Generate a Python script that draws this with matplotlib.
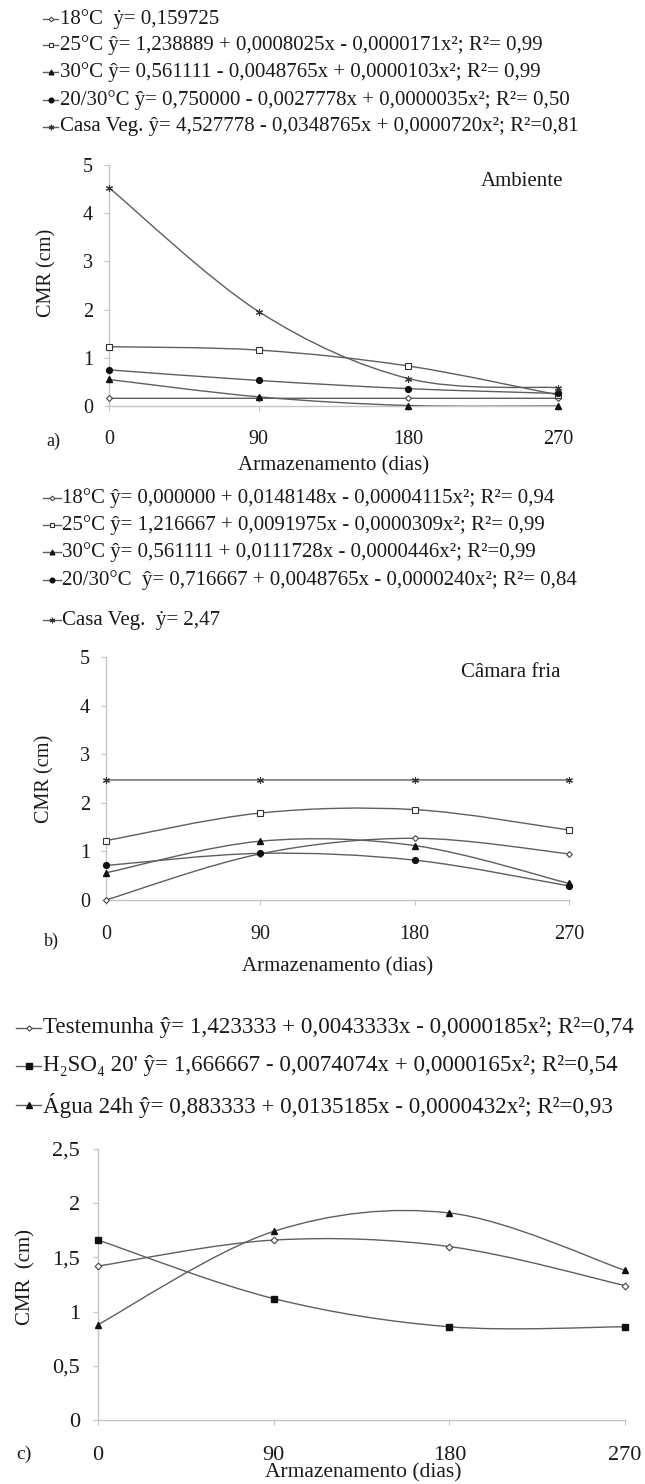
import numpy as np
import matplotlib
matplotlib.use('Agg')
import matplotlib.pyplot as plt
from matplotlib.path import Path
from matplotlib.patches import PathPatch
from matplotlib.lines import Line2D

plt.rcParams['font.family'] = ['Liberation Serif', 'DejaVu Serif']

W, H = 645, 1484
dias = [0, 90, 180, 270]

# a) Ambiente
amb_18 = [0.16, 0.16, 0.16, 0.16]
amb_25 = [1.23, 1.16, 0.83, 0.23]
amb_30 = [0.55, 0.19, 0.01, 0.0]
amb_2030 = [0.75, 0.53, 0.36, 0.26]
amb_casa = [4.53, 1.96, 0.57, 0.38]
amb_labels = ['18°C  ẏ= 0,159725',
              '25°C ŷ= 1,238889 + 0,0008025x - 0,0000171x²; R²= 0,99',
              '30°C ŷ= 0,561111 - 0,0048765x + 0,0000103x²; R²= 0,99',
              '20/30°C ŷ= 0,750000 - 0,0027778x + 0,0000035x²; R²= 0,50',
              'Casa Veg. ŷ= 4,527778 - 0,0348765x + 0,0000720x²; R²=0,81']

# b) Camara fria
cam_18 = [0.0, 0.95, 1.27, 0.95]
cam_25 = [1.22, 1.79, 1.86, 1.44]
cam_30 = [0.56, 1.21, 1.12, 0.34]
cam_2030 = [0.71, 0.96, 0.82, 0.29]
cam_casa = [2.47, 2.47, 2.47, 2.47]
cam_labels = ['18°C ŷ= 0,000000 + 0,0148148x - 0,00004115x²; R²= 0,94',
              '25°C ŷ= 1,216667 + 0,0091975x - 0,0000309x²; R²= 0,99',
              '30°C ŷ= 0,561111 + 0,0111728x - 0,0000446x²; R²=0,99',
              '20/30°C  ŷ= 0,716667 + 0,0048765x - 0,0000240x²; R²= 0,84',
              'Casa Veg.  ẏ= 2,47']

# c) tratamentos
trat_test = [1.42, 1.66, 1.60, 1.24]
trat_h2so4 = [1.66, 1.12, 0.86, 0.86]
trat_agua = [0.88, 1.74, 1.91, 1.38]
trat_labels = ['Testemunha ŷ= 1,423333 + 0,0043333x - 0,0000185x²; R²=0,74',
               'H₂SO₄ 20\' ŷ= 1,666667 - 0,0074074x + 0,0000165x²; R²=0,54',
               'Água 24h ŷ= 0,883333 + 0,0135185x - 0,0000432x²; R²=0,93']

LINE = '#5e5e5e'
AXC = '#c4c4c4'
TXT = '#1a1a1a'

st_diamond = dict(marker='D', mfc='white', mec='#444444', ms=3.0, mew=0.8)
st_square = dict(marker='s', mfc='white', mec='#333333', ms=4.2, mew=0.8)
st_tri = dict(marker='^', mfc='#111111', mec='#111111', ms=4.2)
st_circ = dict(marker='o', mfc='#111111', mec='#111111', ms=4.2)
st_star = dict(marker=(6, 2, 0), mfc='#333333', mec='#333333', ms=5, mew=0.8)
c_diamond = dict(marker='D', mfc='white', mec='#444444', ms=3.4, mew=0.8)
c_square = dict(marker='s', mfc='#111111', mec='#111111', ms=5.0)
c_tri = dict(marker='^', mfc='#111111', mec='#111111', ms=5.0)


def smooth_path(x, y):
    # curva suavizada tipo Excel (Catmull-Rom em Bezier)
    pts = np.column_stack([x, y]).astype(float)
    ext = np.vstack([pts[0], pts, pts[-1]])
    verts = [pts[0]]
    codes = [Path.MOVETO]
    for i in range(len(pts) - 1):
        p0, p1, p2, p3 = ext[i], ext[i + 1], ext[i + 2], ext[i + 3]
        verts += [p1 + (p2 - p0) / 6, p2 - (p3 - p1) / 6, p2]
        codes += [Path.CURVE4] * 3
    return Path(verts, codes)


def draw_series(ax, y, style):
    ax.add_patch(PathPatch(smooth_path(dias, y), fill=False, ec=LINE, lw=1.0, zorder=3))
    ax.plot(dias, y, ls='none', clip_on=False, zorder=4, **style)


def px_axes(fig, l, t, r, b):
    return fig.add_axes([l / W, 1 - b / H, (r - l) / W, (b - t) / H])


def setup_axes(ax, ymax, yticks, ylabels, fs, xpad, ypad):
    ax.set_xlim(0, 270)
    ax.set_ylim(0, ymax)
    ax.set_xticks(dias)
    ax.set_yticks(yticks)
    ax.set_yticklabels(ylabels)
    for s in ['top', 'right']:
        ax.spines[s].set_visible(False)
    for s in ['left', 'bottom']:
        ax.spines[s].set_color(AXC)
        ax.spines[s].set_linewidth(1.0)
    ax.tick_params(color=AXC, length=3.5, labelsize=fs, labelcolor=TXT)
    ax.tick_params(axis='x', pad=xpad)
    ax.tick_params(axis='y', pad=ypad)


def legend_row(fig, x0, x1, xt, y, style, text, fs):
    yy = 1 - y / H
    fig.add_artist(Line2D([x0 / W, x1 / W], [yy, yy], color=LINE, lw=1.0))
    st = dict(style)
    st['ms'] = st['ms'] * 0.8
    fig.add_artist(Line2D([(x0 + x1) / 2 / W], [yy], ls='none', **st))
    fig.text(xt / W, yy, text, fontsize=fs, color=TXT, ha='left', va='center')


def ftext(fig, x, y, s, fs, **kw):
    fig.text(x / W, 1 - y / H, s, fontsize=fs, color=TXT, **kw)


fig = plt.figure(figsize=(W / 100, H / 100), dpi=100)

# ---- painel a
styles_ab = [st_diamond, st_square, st_tri, st_circ, st_star]
for i, (lab, y) in enumerate(zip(amb_labels, [19, 45, 72, 100, 127])):
    legend_row(fig, 43, 58, 60, y, styles_ab[i], lab, 15)

ax = px_axes(fig, 109, 165, 558, 406)
setup_axes(ax, 5, [0, 1, 2, 3, 4, 5], ['0', '1', '2', '3', '4', '5'], 14.5, 13.5, 8)
for y, st in zip([amb_18, amb_25, amb_30, amb_2030, amb_casa], styles_ab):
    draw_series(ax, y, st)
ftext(fig, 481, 182, 'Ambiente', 15, ha='left', va='center')
ftext(fig, 47, 273, 'CMR (cm)', 14.6, ha='center', va='center', rotation=90)
ftext(fig, 334, 466, 'Armazenamento (dias)', 15, ha='center', va='center')
ftext(fig, 53, 441, 'a)', 13, ha='center', va='center')

# ---- painel b
for i, (lab, y) in enumerate(zip(cam_labels, [498, 525, 552, 580, 620])):
    legend_row(fig, 43, 61, 62, y, styles_ab[i], lab, 15)

ax = px_axes(fig, 106, 657, 569, 900)
setup_axes(ax, 5, [0, 1, 2, 3, 4, 5], ['0', '1', '2', '3', '4', '5'], 14.5, 14.5, 8)
for y, st in zip([cam_18, cam_25, cam_30, cam_2030, cam_casa], styles_ab):
    draw_series(ax, y, st)
ftext(fig, 461, 673, 'Câmara fria', 15, ha='left', va='center')
ftext(fig, 45, 779, 'CMR (cm)', 14.6, ha='center', va='center', rotation=90)
ftext(fig, 338, 967, 'Armazenamento (dias)', 15, ha='center', va='center')
ftext(fig, 51, 941, 'b)', 13, ha='center', va='center')

# ---- painel c
styles_c = [c_diamond, c_square, c_tri]
for i, (lab, y) in enumerate(zip(trat_labels, [1028, 1066, 1105])):
    legend_row(fig, 16, 41, 43, y, styles_c[i], lab, 16.6)

ax = px_axes(fig, 98, 1149, 625, 1420)
setup_axes(ax, 2.5, [0, 0.5, 1, 1.5, 2, 2.5],
           ['0', '0,5', '1', '1,5', '2', '2,5'], 16, 15, 9.5)
for y, st in zip([trat_test, trat_h2so4, trat_agua], styles_c):
    draw_series(ax, y, st)
ftext(fig, 26, 1277, 'CMR  (cm)', 15, ha='center', va='center', rotation=90)
ftext(fig, 363, 1473, 'Armazenamento (dias)', 15.5, ha='center', va='center')
ftext(fig, 24, 1454, 'c)', 14, ha='center', va='center')

fig.savefig('out.png', dpi=100, facecolor='white')
